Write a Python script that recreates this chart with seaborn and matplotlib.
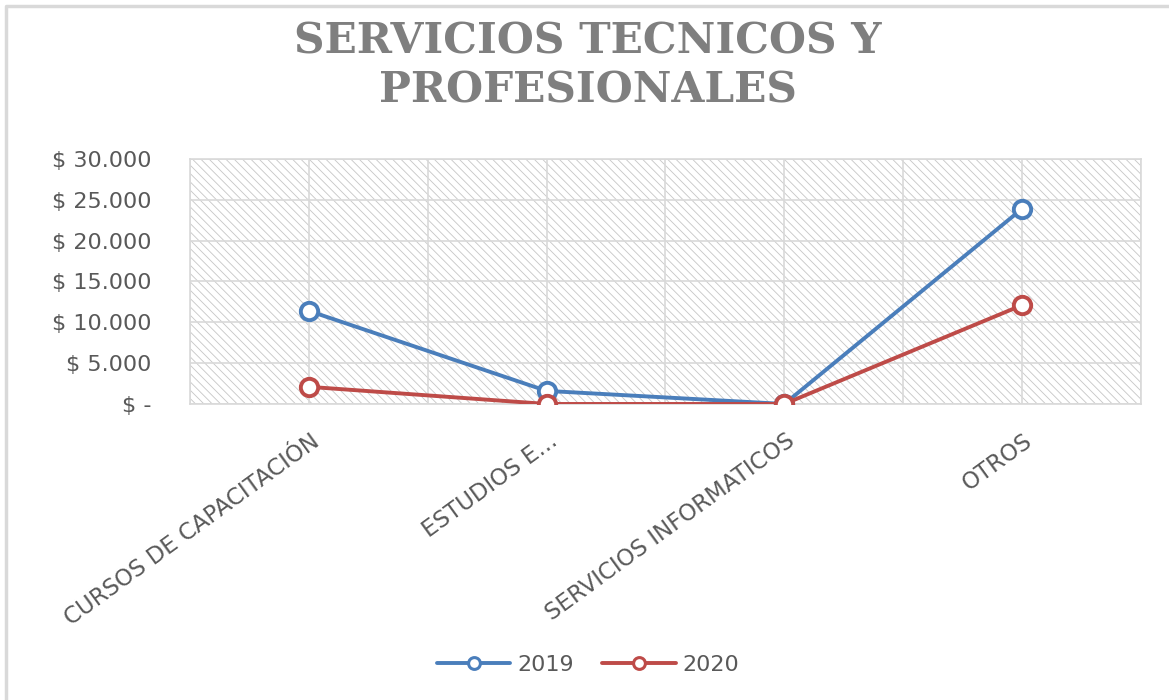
import pandas as pd
import matplotlib.pyplot as plt
import matplotlib.transforms as mtransforms
from matplotlib.patches import Rectangle
from matplotlib.lines import Line2D
from matplotlib.ticker import FixedLocator
import seaborn as sns

# Datos
categorias = ['CURSOS DE CAPACITACIÓN', 'ESTUDIOS E...', 'SERVICIOS INFORMATICOS', 'OTROS']
valores_2019 = [11400, 1600, 0, 23900]
valores_2020 = [2100, 0, 0, 12100]
anios = ['2019', '2020']
y_ticks = [0, 5000, 10000, 15000, 20000, 25000, 30000]
y_etiquetas = ['$ -', '$ 5.000', '$ 10.000', '$ 15.000', '$ 20.000', '$ 25.000', '$ 30.000']

df = pd.DataFrame({
    'categoria': categorias * 2,
    'valor': valores_2019 + valores_2020,
    'anio': [anios[0]] * len(categorias) + [anios[1]] * len(categorias),
})

sns.set_style('white')
plt.rcParams['font.family'] = ['DejaVu Sans']
plt.rcParams['hatch.linewidth'] = 0.6

gris_texto = '#595959'
gris_grid = '#d9d9d9'
colores = {'2019': '#4a7ebb', '2020': '#be4b48'}

fig = plt.figure(figsize=(11.69, 7.0), dpi=100)
ax = fig.add_axes([0.1625, 0.4229, 0.8135, 0.3500])

sns.lineplot(data=df, x='categoria', y='valor', hue='anio', palette=colores,
             marker='o', markersize=12.5, markerfacecolor='white',
             markeredgewidth=2.8, linewidth=2.8, ax=ax, zorder=3)
for ln in ax.lines:
    ln.set_markeredgecolor(ln.get_color())

# Fondo rayado del area de trazado
ax.add_patch(Rectangle((0, 0), 1, 1, transform=ax.transAxes, facecolor='white',
                       edgecolor='#c6c6c6', hatch='\\\\\\\\', lw=0, zorder=0.1))

ax.set_xlim(-0.5, len(categorias) - 0.5)
ax.set_ylim(y_ticks[0], y_ticks[-1])
ax.set_yticks(y_ticks)
ax.set_yticklabels(y_etiquetas)
ax.xaxis.set_minor_locator(FixedLocator([i - 0.5 for i in range(len(categorias) + 1)]))
ax.grid(True, which='both', color=gris_grid, linewidth=1.2)
ax.set_axisbelow(True)
for s in ax.spines.values():
    s.set_color(gris_grid)
    s.set_linewidth(1.2)

ax.set_xlabel('')
ax.set_ylabel('')
ax.tick_params(axis='y', length=0, pad=28, labelsize=16, labelcolor=gris_texto)
ax.tick_params(axis='x', which='both', length=0, pad=25, labelsize=16.5, labelcolor=gris_texto)
desplaz = mtransforms.ScaledTranslation(8 / 100, 0, fig.dpi_scale_trans)
for lab in ax.get_xticklabels():
    lab.set_rotation(36)
    lab.set_ha('right')
    lab.set_va('center')
    lab.set_rotation_mode('anchor')
    lab.set_transform(lab.get_transform() + desplaz)

# Leyenda abajo al centro
handles, labels = ax.get_legend_handles_labels()
ax.get_legend().remove()
for h in handles:
    h.set_markersize(8.5)
    h.set_markeredgewidth(2.2)
    h.set_markerfacecolor('white')
    h.set_markeredgecolor(h.get_color())
fig.legend(handles, labels, loc='center', bbox_to_anchor=(0.503, 0.05), ncol=2,
           frameon=False, fontsize=16, labelcolor=gris_texto, handlelength=3.3,
           handletextpad=0.3, columnspacing=1.3)

# Titulo
fig.text(0.503, 0.906, 'SERVICIOS TECNICOS Y\nPROFESIONALES', ha='center', va='center',
         fontsize=30.5, fontweight='bold', family='DejaVu Serif', color='#7f7f7f',
         linespacing=1.2)

# Borde del grafico (izquierda y arriba)
fig.add_artist(Line2D([0.005, 0.005, 1.0], [0.0, 0.992, 0.992], transform=fig.transFigure,
                      color=gris_grid, linewidth=2.5))

fig.savefig('out.png', dpi=100)
